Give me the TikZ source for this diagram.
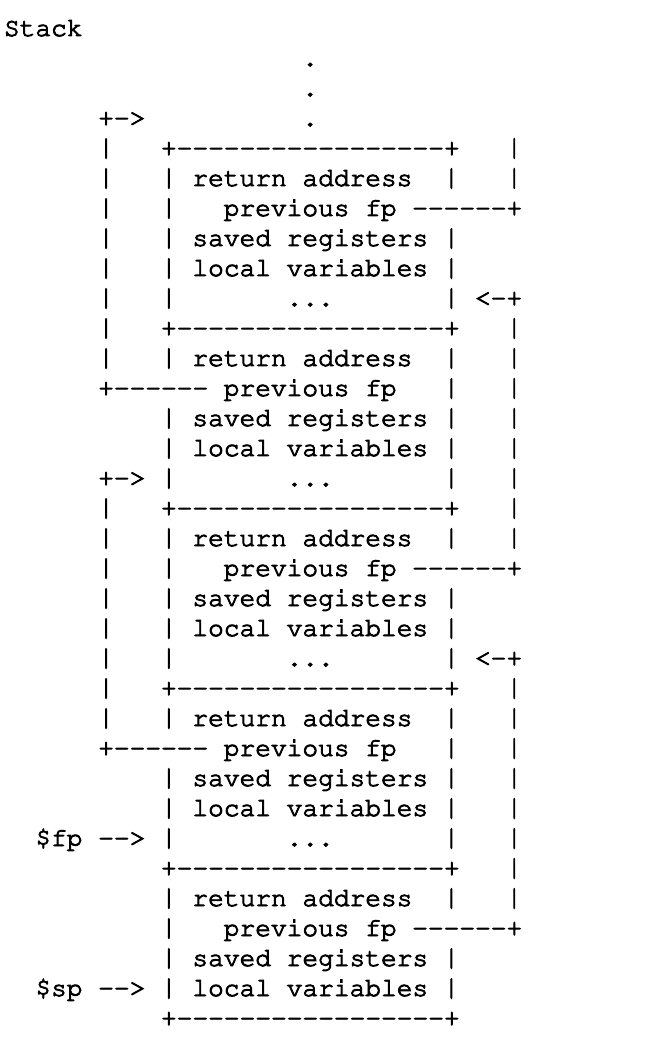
\documentclass[tikz,border=0pt]{standalone}
\usepackage{graphicx}
\newcommand\stackfont{\fontencoding{T1}\fontfamily{pcr}\fontseries{m}\fontshape{n}\fontsize{13.1pt}{15pt}\selectfont\special{pdf:code 2 Tr 0.45 w}}
\newcommand\dashes[1]{\foreach \i in {1,...,#1}{-}}
\newcommand\vbar{\raisebox{-3pt}{\resizebox*{7.86pt}{13.5pt}{\raisebox{\depth}{|}}}}
\tikzset{
  cell/.style={anchor=base west, inner sep=0pt, outer sep=0pt, font=\stackfont},
}
\begin{document}
\begin{tikzpicture}[x=7.85pt, y=-15pt]
\useasboundingbox (-2pt,18pt) rectangle (324pt,-508pt);

\node[cell] (title) at (0,0) {Stack};
\foreach \r in {1,2,3}
  \node[cell] (dot\r) at (19,\r) {.};

% frame borders and sides
\foreach \r in {4,10,16,22,28,33}
  \node[cell] (rule\r) at (10,\r) {+\dashes{17}+};
\foreach \r in {5,6,7,8,9,11,13,14,15,17,18,19,20,21,23,25,26,27,29,30,31,32}
  \node[cell] (lside\r) at (10,\r) {\vbar};
\foreach \r in {5,7,8,9,11,12,13,14,15,17,19,20,21,23,24,25,26,27,29,31,32}
  \node[cell] (rside\r) at (28,\r) {\vbar};

% frame contents
\foreach \r in {5,11,17,23,29}
  \node[cell] (ret\r) at (12,\r) {return address};
\foreach \r in {6,12,18,24,30}
  \node[cell] (prev\r) at (14,\r) {previous fp};
\foreach \r in {7,13,19,25,31}
  \node[cell] (regs\r) at (12,\r) {saved registers};
\foreach \r in {8,14,20,26,32}
  \node[cell] (vars\r) at (12,\r) {local variables};
\foreach \r in {9,15,21,27}
  \node[cell] (more\r) at (18,\r) {...};

% fp chain, right side
\foreach \r in {6,18,30}
  \node[cell] (out\r) at (26,\r) {\dashes{6}+};
\foreach \r in {9,21}
  \node[cell] (in\r) at (30,\r) {<-+};
\foreach \r in {4,5,10,11,12,13,14,15,16,17,22,23,24,25,26,27,28,29}
  \node[cell] (rbar\r) at (32,\r) {\vbar};

% fp chain, left side
\foreach \r in {12,24}
  \node[cell] (out\r) at (6,\r) {+\dashes{6}};
\foreach \r in {3,15}
  \node[cell] (in\r) at (6,\r) {+->};
\foreach \r in {4,5,6,7,8,9,10,11,16,17,18,19,20,21,22,23}
  \node[cell] (lbar\r) at (6,\r) {\vbar};

% registers
\node[cell] (fp) at (2,27) {\$fp};
\node[cell] (fparrow) at (6,27) {\dashes{2}>};
\node[cell] (sp) at (2,32) {\$sp};
\node[cell] (sparrow) at (6,32) {\dashes{2}>};
\end{tikzpicture}
\end{document}
